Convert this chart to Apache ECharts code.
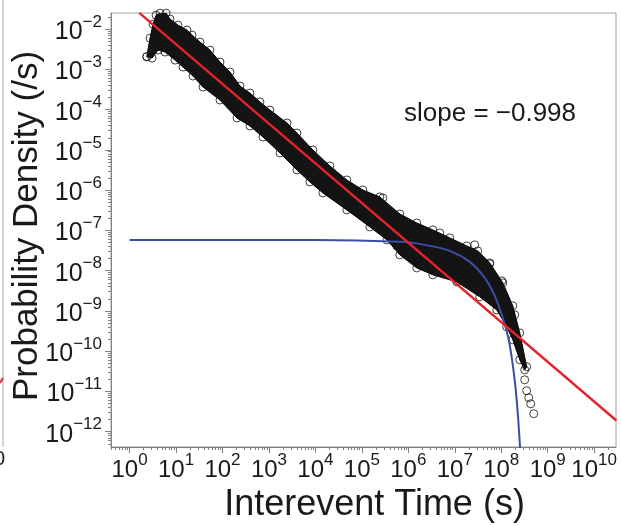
<!DOCTYPE html>
<html><head><meta charset="utf-8">
<script src="https://cdn.jsdelivr.net/npm/echarts@6/dist/echarts.min.js"></script>
<style>html,body{margin:0;padding:0;background:#fff}#c{width:621px;height:526px}</style>
</head><body><div id="c"></div>
<script>
// ---- data ----
const xTickExps = [0, 1, 2, 3, 4, 5, 6, 7, 8, 9, 10];
const yTickExps = [-12, -11, -10, -9, -8, -7, -6, -5, -4, -3, -2];

// upper edge of the dense cloud of points [interevent time (s), density (/s)]
const bandUpper = [
  [2.34, 2.06e-3], [2.76, 5.98e-3], [3.20, 1.33e-2], [3.72, 2.22e-2], [4.53, 2.49e-2],
  [6.10, 2.49e-2], [7.43, 1.77e-2], [11.0, 1.26e-2], [17.2, 9.44e-3], [22.1, 7.10e-3],
  [32.8, 4.76e-3], [53.8, 3.01e-3], [88.3, 1.52e-3], [145, 8.57e-4], [238, 3.85e-4],
  [390, 2.58e-4], [640, 1.55e-4], [1050, 9.77e-5], [2440, 4.65e-5], [4000, 2.62e-5],
  [8830, 9.95e-6], [2.05e4, 3.98e-6], [4.75e4, 1.79e-6], [1.05e5, 1.01e-6], [2.44e5, 6.78e-7],
  [6.56e5, 2.56e-7], [1.52e6, 1.53e-7], [3.37e6, 1.03e-7], [7.80e6, 6.52e-8], [1.81e7, 4.12e-8],
  [3.12e7, 3.10e-8], [5.66e7, 1.56e-8], [1.08e8, 4.98e-9], [1.77e8, 1.34e-9], [2.50e8, 2.86e-10],
  [3.53e8, 4.10e-11]
];
// lower edge of the dense cloud
const bandLower = [
  [2.34, 2.06e-3], [3.05, 1.91e-3], [4.10, 3.01e-3], [5.80, 2.69e-3], [9.51, 1.70e-3],
  [14.1, 1.14e-3], [23.2, 6.82e-4], [38.1, 3.64e-4], [88.3, 1.73e-4], [205, 6.19e-5],
  [390, 3.92e-5], [743, 2.09e-5], [1730, 8.38e-6], [4000, 3.17e-6], [7620, 1.60e-6],
  [1.45e4, 8.53e-7], [4.75e4, 3.23e-7], [1.49e5, 1.22e-7], [3.45e5, 5.81e-8], [6.56e5, 2.47e-8],
  [1.52e6, 1.17e-8], [3.37e6, 7.87e-9], [1.10e7, 5.27e-9], [3.45e7, 2.24e-9], [8.00e7, 1.06e-9],
  [1.31e8, 4.03e-10], [1.77e8, 1.92e-10], [2.50e8, 6.12e-11], [3.20e8, 3.45e-11]
];
// isolated open circles
const outliers = [
  [3.20e8, 1.95e-11], [3.53e8, 1.04e-11], [3.90e8, 6.98e-12], [4.31e8, 4.95e-12], [5.00e8, 2.80e-12],
  [4.75e6, 8.67e-8], [2.69e7, 4.37e-8], [5.66e7, 1.48e-8], [1.03e8, 5.58e-9], [1.95e8, 8.00e-10],
  [5.66e5, 4.12e-8], [1.60e6, 1.65e-8], [4640, 3.77e-6], [1.73e5, 1.53e-7], [2.83e5, 6.40e-7]
];
// blue fitted curve
const blueCurve = [
  [1, 5.8e-8], [1e4, 5.8e-8], [6.56e5, 5.19e-8], [2.26e6, 4.37e-8], [7.80e6, 3.10e-8],
  [2.10e7, 1.65e-8], [4.42e7, 6.62e-9], [7.24e7, 2.37e-9], [1.08e8, 6.75e-10], [1.45e8, 1.92e-10],
  [1.77e8, 4.60e-11], [2.05e8, 1.10e-11], [2.32e8, 1.99e-12], [2.60e8, 2.7e-13]
];
// red power-law fit
const redLine = [[1.62, 2.53e-2], [3.0e10, 1.9e-12]];

const slopeText = 'slope = \u22120.998';
const xTitle = 'Interevent Time (s)';
const yTitle = 'Probability Density (/s)';

// ---- helpers ----
const FONT = "'Liberation Sans', Helvetica, Arial, sans-serif";
const TXT = '#1a1a1a';
const AX = '#808080';
const lg = v => Math.log10(v);
const toLog = arr => arr.map(p => [lg(p[0]), lg(p[1])]);
const X_MIN = -0.4, X_MAX = 10.47, Y_MIN = -12.38, Y_MAX = -1.6;
function minorTicks(lo, hi) {
  const out = [];
  for (let n = Math.floor(lo) - 1; n <= Math.ceil(hi); n++) {
    for (let k = 2; k <= 9; k++) { const v = n + Math.log10(k); if (v > lo && v < hi) out.push(v); }
  }
  return out;
}
const sup = v => (v < 0 ? '\u2212' + (-v) : String(v));
const pow10 = v => '{b|10}{s|' + sup(v) + '}';

const chart = echarts.init(document.getElementById('c'), null, { renderer: 'canvas' });
const richY = {
  b: { fontSize: 25, fontFamily: FONT, color: TXT, verticalAlign: 'bottom', lineHeight: 31 },
  s: { fontSize: 17, fontFamily: FONT, color: TXT, verticalAlign: 'top' }
};
const richX = {
  b: { fontSize: 24, fontFamily: FONT, color: TXT, verticalAlign: 'bottom', lineHeight: 30 },
  s: { fontSize: 17, fontFamily: FONT, color: TXT, verticalAlign: 'top' }
};

chart.setOption({
  animation: false,
  backgroundColor: '#fff',
  grid: {
    left: 111, top: 13, width: 505, height: 434, outerBoundsMode: 'none', containLabel: false,
    show: true, borderColor: '#a0a0a0', borderWidth: 1, backgroundColor: 'transparent'
  },
  xAxis: [
    {
      type: 'value', min: X_MIN, max: X_MAX, position: 'bottom',
      axisLine: { show: true, onZero: false, lineStyle: { color: AX, width: 1 } },
      axisTick: { show: true, length: 6, customValues: xTickExps, lineStyle: { color: AX } },
      axisLabel: { customValues: xTickExps, formatter: pow10, margin: 5, rich: richX },
      splitLine: { show: false },
      name: xTitle, nameLocation: 'middle', nameGap: 40, nameMoveOverlap: false,
      nameTextStyle: { fontSize: 36, fontFamily: FONT, color: TXT, padding: [0, 0, 0, 22] }
    },
    {
      type: 'value', min: X_MIN, max: X_MAX, position: 'bottom',
      axisLine: { show: false, onZero: false },
      axisTick: { show: true, length: 3, customValues: minorTicks(X_MIN, X_MAX), lineStyle: { color: AX } },
      axisLabel: { show: false }, splitLine: { show: false }
    }
  ],
  yAxis: [
    {
      type: 'value', min: Y_MIN, max: Y_MAX, position: 'left',
      axisLine: { show: true, onZero: false, lineStyle: { color: AX, width: 1 } },
      axisTick: { show: true, length: 6, customValues: yTickExps, lineStyle: { color: AX } },
      axisLabel: { customValues: yTickExps, formatter: pow10, margin: 9, rich: richY },
      splitLine: { show: false },
      name: yTitle, nameLocation: 'middle', nameGap: 66, nameRotate: 90, nameMoveOverlap: false,
      nameTextStyle: { fontSize: 35, fontFamily: FONT, color: TXT, padding: [0, 0, 0, 8] }
    },
    {
      type: 'value', min: Y_MIN, max: Y_MAX, position: 'left',
      axisLine: { show: false, onZero: false },
      axisTick: { show: true, length: 3, customValues: minorTicks(Y_MIN, Y_MAX), lineStyle: { color: AX } },
      axisLabel: { show: false }, splitLine: { show: false }
    }
  ],
  graphic: [
    { type: 'line', shape: { x1: 3, y1: 0, x2: 3, y2: 447 }, style: { stroke: '#a8a8a8', lineWidth: 1 } },
    { type: 'line', shape: { x1: 0, y1: 383, x2: 3, y2: 378 }, style: { stroke: '#e3232c', lineWidth: 2 } },
    { type: 'text', left: -6, top: 449, style: { text: '0', font: '20px ' + FONT, fill: TXT } },
    { type: 'text', left: 404, top: 101, style: { text: slopeText, font: '26px ' + FONT, fill: TXT } }
  ],
  series: [
    {
      type: 'custom', name: 'cloud', xAxisIndex: 0, yAxisIndex: 0, clip: true, z: 1, silent: true,
      data: [toLog(bandUpper)[0]],
      renderItem: (params, api) => {
        const pts = toLog(bandUpper).map(p => api.coord(p))
          .concat(toLog(bandLower).reverse().map(p => api.coord(p)));
        return { type: 'polygon', shape: { points: pts }, style: { fill: '#141414', stroke: '#000', lineWidth: 1 } };
      }
    },
    {
      type: 'scatter', name: 'points', xAxisIndex: 0, yAxisIndex: 0, z: 2,
      data: toLog(bandUpper.concat(bandLower, outliers)),
      symbol: 'circle', symbolSize: 8,
      itemStyle: { color: 'rgba(0,0,0,0)', borderColor: '#111', borderWidth: 1 }
    },
    {
      type: 'line', name: 'cutoff', xAxisIndex: 0, yAxisIndex: 0, z: 3,
      data: toLog(blueCurve), smooth: 0.3, showSymbol: false,
      lineStyle: { color: '#3c4ea3', width: 2 }
    },
    {
      type: 'line', name: 'powerlaw', xAxisIndex: 0, yAxisIndex: 0, z: 4,
      data: toLog(redLine), showSymbol: false,
      lineStyle: { color: '#e3232c', width: 2.4 }
    }
  ]
});
</script>
</body></html>
